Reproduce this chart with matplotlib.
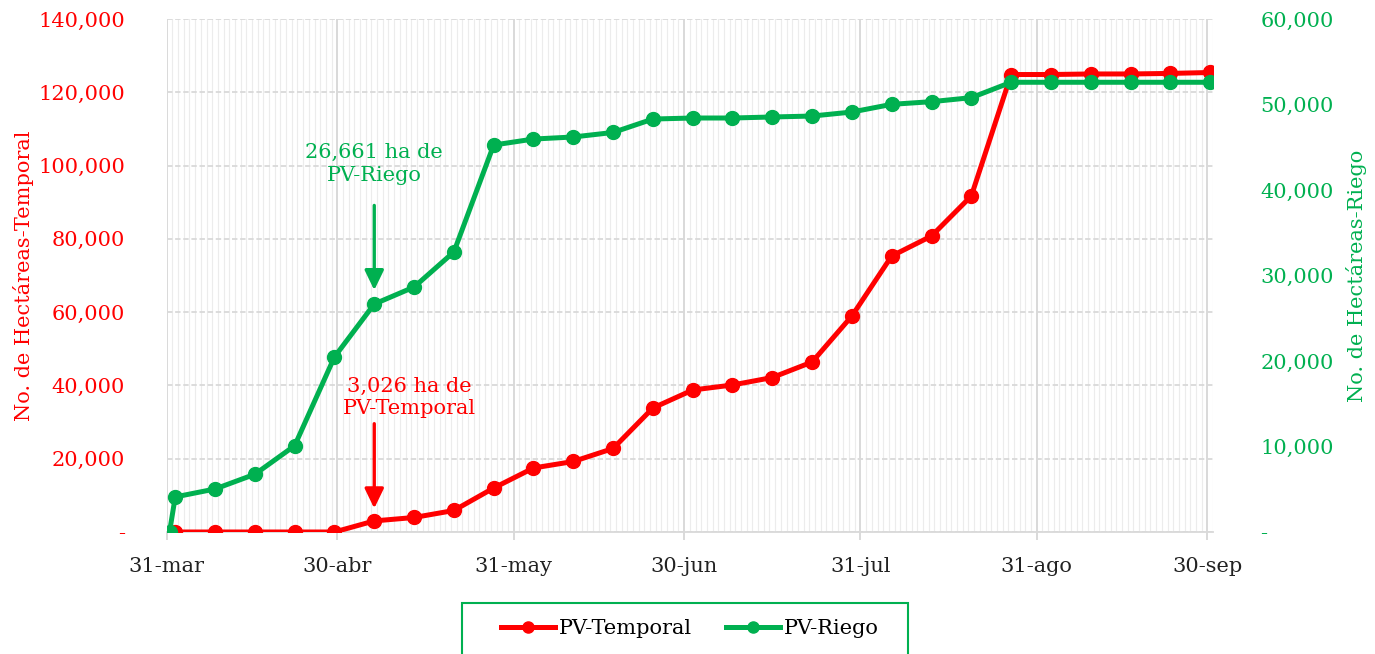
# avance de siembras PV: temporal vs riego
import matplotlib
matplotlib.use("Agg")
import matplotlib.pyplot as plt
import matplotlib.dates as mdates
import matplotlib.ticker as mticker
from matplotlib.lines import Line2D
from matplotlib.patches import Rectangle
import pandas as pd

plt.rcParams["font.family"] = ["DejaVu Serif"]
plt.rcParams["font.size"] = 15

ROJO = "#FF0000"
VERDE = "#00B050"

# fechas de corte semanales
semanas = [
    "2023-04-08", "2023-04-15", "2023-04-22", "2023-04-29", "2023-05-06",
    "2023-05-13", "2023-05-20", "2023-05-27", "2023-06-03", "2023-06-10",
    "2023-06-17", "2023-06-24", "2023-07-01", "2023-07-08", "2023-07-15",
    "2023-07-22", "2023-07-29", "2023-08-05", "2023-08-12", "2023-08-19",
    "2023-08-26", "2023-09-02", "2023-09-09", "2023-09-16", "2023-09-23",
    "2023-09-30",
]
fechas_temporal = ["2023-04-01"] + semanas
fechas_riego = ["2023-03-31", "2023-04-01"] + semanas

temporal = [0, 0, 0, 0, 0, 3026, 3960, 5870, 12000, 17470, 19240, 22790,
            33840, 38750, 40120, 42160, 46390, 58950, 75320, 80780, 91700,
            124850, 124850, 125000, 125000, 125150, 125400]
riego = [0, 4100, 5030, 6750, 10090, 20470, 26661, 28650, 32750, 45260,
         45960, 46200, 46730, 48300, 48420, 48420, 48540, 48650, 49120,
         50020, 50330, 50800, 52600, 52600, 52600, 52600, 52600, 52600]

etiquetas_x = ["2023-03-31", "2023-04-30", "2023-05-31", "2023-06-30",
               "2023-07-31", "2023-08-31", "2023-09-30"]
meses = {3: "mar", 4: "abr", 5: "may", 6: "jun", 7: "jul", 8: "ago", 9: "sep"}

# los puntos caen a mitad del dia (eje de fechas tipo excel)
x_temp = pd.to_datetime(fechas_temporal) + pd.Timedelta(hours=12)
x_riego = pd.to_datetime(fechas_riego) + pd.Timedelta(hours=12)

fig = plt.figure(figsize=(13.75, 6.54), dpi=100)
ax = fig.add_axes([166.7 / 1375, 1 - 532 / 654, (1213 - 166.7) / 1375, (532 - 19) / 654])
ax2 = ax.twinx()

ax.plot(x_temp, temporal, color=ROJO, lw=3.6, marker="o", ms=10, zorder=3)
ax2.plot(x_riego, riego, color=VERDE, lw=3.6, marker="o", ms=10, zorder=3)

ax.set_xlim(pd.Timestamp("2023-03-31"), pd.Timestamp("2023-10-01"))
ax.set_ylim(0, 140000)
ax2.set_ylim(0, 60000)
ax.yaxis.set_major_locator(mticker.MultipleLocator(20000))
ax2.yaxis.set_major_locator(mticker.MultipleLocator(10000))

fmt_miles = mticker.FuncFormatter(lambda v, p: "-" if v == 0 else f"{v:,.0f}")
ax.yaxis.set_major_formatter(fmt_miles)
ax2.yaxis.set_major_formatter(fmt_miles)

ax.xaxis.set_major_locator(mticker.FixedLocator(mdates.date2num(pd.to_datetime(etiquetas_x))))
ax.xaxis.set_minor_locator(mdates.DayLocator())
ax.xaxis.set_major_formatter(mticker.FuncFormatter(
    lambda v, p: f"{mdates.num2date(v).day}-{meses[mdates.num2date(v).month]}"))

# rejilla
ax.grid(which="minor", axis="x", color="#ececec", lw=0.8)
ax.grid(which="major", axis="x", color="#d9d9d9", lw=1.4)
ax.grid(which="major", axis="y", color="#d9d9d9", lw=1.3, ls=(0, (3, 1.5)))
ax.set_axisbelow(True)

for a in (ax, ax2):
    for s in a.spines.values():
        s.set_visible(False)
ax.spines["bottom"].set_visible(True)
ax.spines["bottom"].set_color("#d9d9d9")
ax.spines["bottom"].set_linewidth(1.3)

ax.tick_params(axis="x", which="major", length=6, width=1.4, color="#d9d9d9", pad=12, labelcolor="#222222")
ax.tick_params(axis="x", which="minor", length=0)
ax.tick_params(axis="y", length=0, pad=30, labelcolor=ROJO)
ax2.tick_params(axis="y", length=0, pad=34, labelcolor=VERDE)

ax.set_ylabel("No. de Hectáreas-Temporal", color=ROJO, labelpad=3)
ax2.set_ylabel("No. de Hectáreas-Riego", color=VERDE, labelpad=9)

# anotaciones
x_anot = pd.Timestamp("2023-05-06 12:00")
flecha = "-|>,head_length=0.6,head_width=0.29"
ax2.annotate("26,661 ha de\nPV-Riego", xy=(x_anot, 26661), xytext=(0, 101),
             textcoords="offset points", ha="center", va="center", color=VERDE,
             multialignment="center", linespacing=1.25)
ax2.annotate("", xy=(x_anot, 26661), xytext=(0, 71), textcoords="offset points",
             arrowprops=dict(arrowstyle=flecha, color=VERDE, lw=2.4,
                             shrinkA=0, shrinkB=10, mutation_scale=20))
ax.annotate("3,026 ha de\nPV-Temporal", xy=(x_anot, 3026), xytext=(25, 89),
            textcoords="offset points", ha="center", va="center", color=ROJO,
            multialignment="center", linespacing=1.25)
ax.annotate("", xy=(x_anot, 3026), xytext=(0, 70), textcoords="offset points",
            arrowprops=dict(arrowstyle=flecha, color=ROJO, lw=2.4,
                            shrinkA=0, shrinkB=9, mutation_scale=20))

# leyenda: marco verde aparte, mas ancho que el contenido (cortado abajo)
handles = [
    Line2D([], [], color=ROJO, lw=3.6, marker="o", ms=8, label="PV-Temporal"),
    Line2D([], [], color=VERDE, lw=3.6, marker="o", ms=8, label="PV-Riego"),
]
fig.legend(handles=handles, loc="center", ncol=2,
           bbox_to_anchor=(690 / 1375, 1 - 629 / 654),
           frameon=False, borderpad=0, borderaxespad=0, handlelength=2.6,
           handletextpad=0.2, columnspacing=1.6)
fig.patches.append(Rectangle((462 / 1375, -0.05), (908 - 462) / 1375, 1 - 603 / 654 + 0.05,
                             transform=fig.transFigure, fill=False,
                             edgecolor=VERDE, lw=1.5))

fig.savefig("out.png", dpi=100)
